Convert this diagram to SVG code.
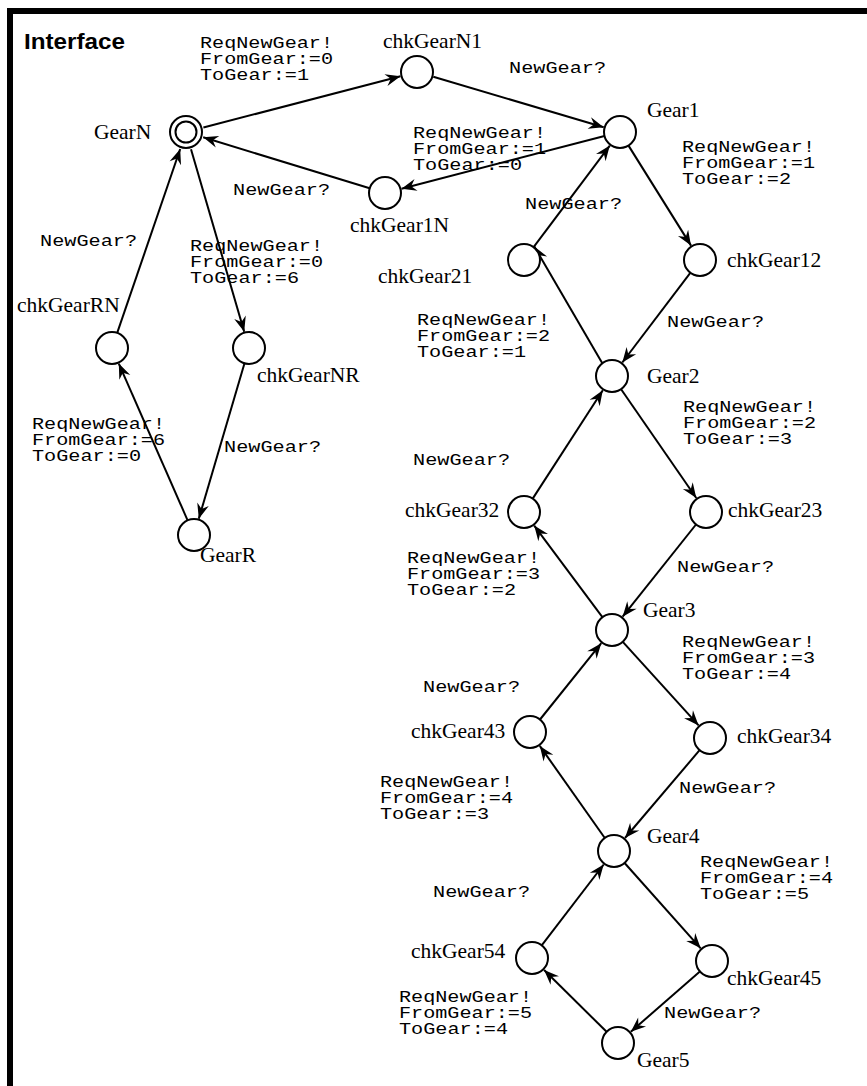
<svg xmlns="http://www.w3.org/2000/svg" width="867" height="1086" viewBox="0 0 867 1086">
<style>
.st{fill:#fff;stroke:#000;stroke-width:2}
.nm{font-family:"Liberation Serif","Times New Roman",serif;font-size:21.5px;fill:#000}
.lb{font-family:"Liberation Mono","Courier New",monospace;font-size:16px;fill:#000}
.e{stroke:#000;stroke-width:2;fill:none;marker-end:url(#ah)}
.t{font-family:"Liberation Sans",Arial,sans-serif;font-weight:bold;font-size:22px;fill:#000}
</style>
<defs>
<marker id="ah" markerUnits="userSpaceOnUse" markerWidth="18" markerHeight="14" refX="16" refY="7" orient="auto" viewBox="0 0 18 14">
<path d="M16,7 L1,1 L6,7 L1,13 Z" fill="#000"/>
</marker>
</defs>
<rect x="0" y="0" width="867" height="1086" fill="#fff"/>
<g id="frame">
<rect x="7" y="8" width="860" height="6" fill="#000"/>
<rect x="7" y="8" width="6" height="1078" fill="#000"/>
<text class="t" x="24" y="49" textLength="101" lengthAdjust="spacingAndGlyphs">Interface</text>
</g>
<g id="connectors">
<line class="e" x1="203.4" y1="127.5" x2="400.5" y2="76.3"/>
<line class="e" x1="433.3" y1="76.8" x2="603.7" y2="127.2"/>
<line class="e" x1="604.5" y1="136" x2="401.5" y2="188.7"/>
<line class="e" x1="369.7" y1="188.3" x2="203.2" y2="137.3"/>
<line class="e" x1="628.5" y1="145.6" x2="691" y2="245.6"/>
<line class="e" x1="533.6" y1="247.2" x2="609.8" y2="145.6"/>
<line class="e" x1="690.3" y1="272.8" x2="622.3" y2="362.5"/>
<line class="e" x1="602.3" y1="363.2" x2="534.3" y2="246.5"/>
<line class="e" x1="621.1" y1="389.2" x2="696.3" y2="498"/>
<line class="e" x1="532.7" y1="498.6" x2="602.8" y2="390.3"/>
<line class="e" x1="602.4" y1="617.2" x2="534.2" y2="525.6"/>
<line class="e" x1="696" y1="524.5" x2="622.6" y2="616.7"/>
<line class="e" x1="622.8" y1="641.9" x2="698.6" y2="725.4"/>
<line class="e" x1="540" y1="719.5" x2="601.3" y2="643.2"/>
<line class="e" x1="604.8" y1="838" x2="539.8" y2="745.9"/>
<line class="e" x1="699.6" y1="750.2" x2="625" y2="838"/>
<line class="e" x1="624.6" y1="863" x2="700.7" y2="948.3"/>
<line class="e" x1="541.7" y1="945.3" x2="603.7" y2="864.5"/>
<line class="e" x1="606.6" y1="1031.8" x2="544.1" y2="970"/>
<line class="e" x1="699.9" y1="971.5" x2="630.8" y2="1031.8"/>
<line class="e" x1="191" y1="149.3" x2="244.2" y2="331.7"/>
<line class="e" x1="244.5" y1="363.3" x2="198.8" y2="518.7"/>
<line class="e" x1="187.6" y1="520.3" x2="118.8" y2="363.6"/>
<line class="e" x1="117.2" y1="332.9" x2="180.2" y2="149"/>
</g>
<g id="edge-labels">
<text class="lb" x="200" y="48" textLength="133" lengthAdjust="spacingAndGlyphs">ReqNewGear!</text><text class="lb" x="200" y="64" textLength="133" lengthAdjust="spacingAndGlyphs">FromGear:=0</text><text class="lb" x="200" y="80" textLength="109" lengthAdjust="spacingAndGlyphs">ToGear:=1</text>
<text class="lb" x="509" y="73" textLength="97" lengthAdjust="spacingAndGlyphs">NewGear?</text>
<text class="lb" x="413" y="138" textLength="133" lengthAdjust="spacingAndGlyphs">ReqNewGear!</text><text class="lb" x="413" y="154" textLength="133" lengthAdjust="spacingAndGlyphs">FromGear:=1</text><text class="lb" x="413" y="170" textLength="109" lengthAdjust="spacingAndGlyphs">ToGear:=0</text>
<text class="lb" x="233" y="195" textLength="97" lengthAdjust="spacingAndGlyphs">NewGear?</text>
<text class="lb" x="682" y="152" textLength="133" lengthAdjust="spacingAndGlyphs">ReqNewGear!</text><text class="lb" x="682" y="168" textLength="133" lengthAdjust="spacingAndGlyphs">FromGear:=1</text><text class="lb" x="682" y="184" textLength="109" lengthAdjust="spacingAndGlyphs">ToGear:=2</text>
<text class="lb" x="525" y="209" textLength="97" lengthAdjust="spacingAndGlyphs">NewGear?</text>
<text class="lb" x="667" y="327" textLength="97" lengthAdjust="spacingAndGlyphs">NewGear?</text>
<text class="lb" x="417" y="325" textLength="133" lengthAdjust="spacingAndGlyphs">ReqNewGear!</text><text class="lb" x="417" y="341" textLength="133" lengthAdjust="spacingAndGlyphs">FromGear:=2</text><text class="lb" x="417" y="357" textLength="109" lengthAdjust="spacingAndGlyphs">ToGear:=1</text>
<text class="lb" x="683" y="412" textLength="133" lengthAdjust="spacingAndGlyphs">ReqNewGear!</text><text class="lb" x="683" y="428" textLength="133" lengthAdjust="spacingAndGlyphs">FromGear:=2</text><text class="lb" x="683" y="444" textLength="109" lengthAdjust="spacingAndGlyphs">ToGear:=3</text>
<text class="lb" x="413" y="465" textLength="97" lengthAdjust="spacingAndGlyphs">NewGear?</text>
<text class="lb" x="407" y="563" textLength="133" lengthAdjust="spacingAndGlyphs">ReqNewGear!</text><text class="lb" x="407" y="579" textLength="133" lengthAdjust="spacingAndGlyphs">FromGear:=3</text><text class="lb" x="407" y="595" textLength="109" lengthAdjust="spacingAndGlyphs">ToGear:=2</text>
<text class="lb" x="677" y="572" textLength="97" lengthAdjust="spacingAndGlyphs">NewGear?</text>
<text class="lb" x="682" y="647" textLength="133" lengthAdjust="spacingAndGlyphs">ReqNewGear!</text><text class="lb" x="682" y="663" textLength="133" lengthAdjust="spacingAndGlyphs">FromGear:=3</text><text class="lb" x="682" y="679" textLength="109" lengthAdjust="spacingAndGlyphs">ToGear:=4</text>
<text class="lb" x="423" y="692" textLength="97" lengthAdjust="spacingAndGlyphs">NewGear?</text>
<text class="lb" x="380" y="787" textLength="133" lengthAdjust="spacingAndGlyphs">ReqNewGear!</text><text class="lb" x="380" y="803" textLength="133" lengthAdjust="spacingAndGlyphs">FromGear:=4</text><text class="lb" x="380" y="819" textLength="109" lengthAdjust="spacingAndGlyphs">ToGear:=3</text>
<text class="lb" x="679" y="793" textLength="97" lengthAdjust="spacingAndGlyphs">NewGear?</text>
<text class="lb" x="700" y="867" textLength="133" lengthAdjust="spacingAndGlyphs">ReqNewGear!</text><text class="lb" x="700" y="883" textLength="133" lengthAdjust="spacingAndGlyphs">FromGear:=4</text><text class="lb" x="700" y="899" textLength="109" lengthAdjust="spacingAndGlyphs">ToGear:=5</text>
<text class="lb" x="433" y="897" textLength="97" lengthAdjust="spacingAndGlyphs">NewGear?</text>
<text class="lb" x="399" y="1002" textLength="133" lengthAdjust="spacingAndGlyphs">ReqNewGear!</text><text class="lb" x="399" y="1018" textLength="133" lengthAdjust="spacingAndGlyphs">FromGear:=5</text><text class="lb" x="399" y="1034" textLength="109" lengthAdjust="spacingAndGlyphs">ToGear:=4</text>
<text class="lb" x="664" y="1018" textLength="97" lengthAdjust="spacingAndGlyphs">NewGear?</text>
<text class="lb" x="190" y="251" textLength="133" lengthAdjust="spacingAndGlyphs">ReqNewGear!</text><text class="lb" x="190" y="267" textLength="133" lengthAdjust="spacingAndGlyphs">FromGear:=0</text><text class="lb" x="190" y="283" textLength="109" lengthAdjust="spacingAndGlyphs">ToGear:=6</text>
<text class="lb" x="224" y="452" textLength="97" lengthAdjust="spacingAndGlyphs">NewGear?</text>
<text class="lb" x="32" y="429" textLength="133" lengthAdjust="spacingAndGlyphs">ReqNewGear!</text><text class="lb" x="32" y="445" textLength="133" lengthAdjust="spacingAndGlyphs">FromGear:=6</text><text class="lb" x="32" y="461" textLength="109" lengthAdjust="spacingAndGlyphs">ToGear:=0</text>
<text class="lb" x="40" y="246" textLength="97" lengthAdjust="spacingAndGlyphs">NewGear?</text>
</g>
<g id="GearN"><circle class="st" cx="186" cy="132" r="16"/><circle class="st" cx="186" cy="132" r="10.5"/><text class="nm" x="94" y="139">GearN</text></g>
<g id="chkGearN1"><circle class="st" cx="417" cy="72" r="16"/><text class="nm" x="383" y="48">chkGearN1</text></g>
<g id="Gear1"><circle class="st" cx="620" cy="132" r="16"/><text class="nm" x="647" y="117">Gear1</text></g>
<g id="chkGear1N"><circle class="st" cx="385" cy="193" r="16"/><text class="nm" x="350" y="232">chkGear1N</text></g>
<g id="chkGear21"><circle class="st" cx="524" cy="260" r="16"/><text class="nm" x="378" y="283">chkGear21</text></g>
<g id="chkGear12"><circle class="st" cx="700" cy="260" r="16"/><text class="nm" x="727" y="267">chkGear12</text></g>
<g id="Gear2"><circle class="st" cx="612" cy="376" r="16"/><text class="nm" x="647" y="383">Gear2</text></g>
<g id="chkGear32"><circle class="st" cx="524" cy="512" r="16"/><text class="nm" x="405" y="517">chkGear32</text></g>
<g id="chkGear23"><circle class="st" cx="706" cy="512" r="16"/><text class="nm" x="728" y="517">chkGear23</text></g>
<g id="Gear3"><circle class="st" cx="612" cy="630" r="16"/><text class="nm" x="643" y="617">Gear3</text></g>
<g id="chkGear43"><circle class="st" cx="530" cy="732" r="16"/><text class="nm" x="411" y="738">chkGear43</text></g>
<g id="chkGear34"><circle class="st" cx="710" cy="738" r="16"/><text class="nm" x="737" y="743">chkGear34</text></g>
<g id="Gear4"><circle class="st" cx="614" cy="851" r="16"/><text class="nm" x="647" y="843">Gear4</text></g>
<g id="chkGear54"><circle class="st" cx="532" cy="958" r="16"/><text class="nm" x="411" y="958">chkGear54</text></g>
<g id="chkGear45"><circle class="st" cx="712" cy="961" r="16"/><text class="nm" x="727" y="985">chkGear45</text></g>
<g id="Gear5"><circle class="st" cx="618" cy="1043" r="16"/><text class="nm" x="637" y="1067">Gear5</text></g>
<g id="chkGearRN"><circle class="st" cx="112" cy="348" r="16"/><text class="nm" x="17" y="312">chkGearRN</text></g>
<g id="chkGearNR"><circle class="st" cx="249" cy="348" r="16"/><text class="nm" x="257" y="382">chkGearNR</text></g>
<g id="GearR"><circle class="st" cx="194" cy="535" r="16"/><text class="nm" x="200" y="562">GearR</text></g>
</svg>
